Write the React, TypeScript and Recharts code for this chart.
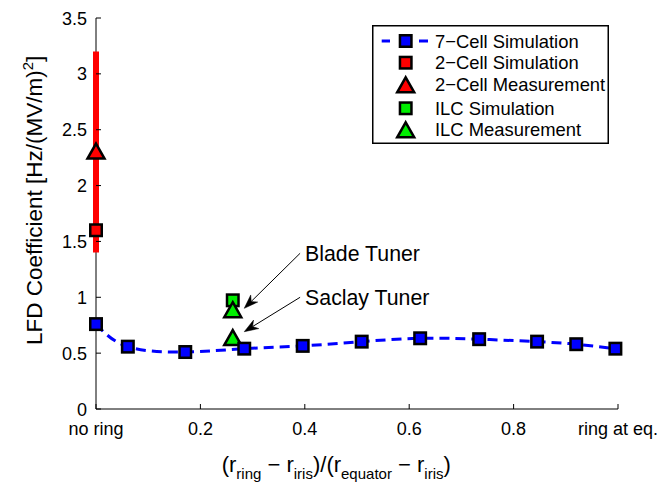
import React from 'react';
import { ComposedChart, Line, Scatter, XAxis, YAxis, ReferenceLine, Legend } from 'recharts';

const FONT = '"Liberation Sans", Arial, Helvetica, sans-serif';
const BLUE = '#0000ff';
const RED = '#ff0000';
const GREEN = '#00ee00';

// 7-Cell simulation
const ringPosition = [0, 0.061, 0.171, 0.284, 0.396, 0.509, 0.621, 0.734, 0.845, 0.92, 0.995];
const lfd7Cell = [0.76, 0.558, 0.51, 0.54, 0.565, 0.603, 0.633, 0.625, 0.603, 0.58, 0.54];

// 2-Cell
const twoCellX = [0];
const twoCellSim = [1.6];
const twoCellMeas = [2.3];
const twoCellRange = [1.4, 3.2];

// ILC
const ilcSimX = [0.262];
const ilcSim = [0.973];
const ilcMeasX = [0.262, 0.262];
const ilcMeas = [0.88, 0.63];

const xTicks = [0, 0.2, 0.4, 0.6, 0.8, 1];
const xTickLabels = ['no ring', '0.2', '0.4', '0.6', '0.8', 'ring at eq.'];
const yTicks = [0, 0.5, 1, 1.5, 2, 2.5, 3, 3.5];
const yTickLabels = ['0', '0.5', '1', '1.5', '2', '2.5', '3', '3.5'];

const legendLabels = ['7\u2212Cell Simulation', '2\u2212Cell Simulation', '2\u2212Cell Measurement', 'ILC Simulation', 'ILC Measurement'];

const annotationLabels = ['Blade Tuner', 'Saclay Tuner'];
const annotationFromX = [0.391, 0.391];
const annotationFromY = [1.394, 1.0];
const annotationToX = [0.284, 0.284];
const annotationToY = [0.901, 0.692];

const cell7Data = ringPosition.map((x, i) => ({ x, y: lfd7Cell[i] }));
const twoCellBarData = twoCellRange.map((y) => ({ x: twoCellX[0], y }));
const twoCellSimData = twoCellSim.map((y, i) => ({ x: twoCellX[i], y }));
const twoCellMeasData = twoCellMeas.map((y, i) => ({ x: twoCellX[i], y }));
const ilcSimData = ilcSim.map((y, i) => ({ x: ilcSimX[i], y }));
const ilcMeasData = ilcMeas.map((y, i) => ({ x: ilcMeasX[i], y }));

const squarePath = (cx: number, cy: number, fill: string, key?: any) => (
  <rect key={key} x={cx - 5.75} y={cy - 5.75} width={11.5} height={11.5} fill={fill} stroke="#000" strokeWidth={2.5} />
);
const trianglePath = (cx: number, cy: number, fill: string, key?: any) => (
  <path
    key={key}
    d={`M${cx},${cy - 8.5} L${cx + 8.5},${cy + 6.5} L${cx - 8.5},${cy + 6.5} Z`}
    fill={fill}
    stroke="#000"
    strokeWidth={2.5}
    strokeLinejoin="miter"
  />
);

const SquareShape = (fill: string) => (props: any) => {
  const { cx, cy } = props;
  if (cx == null || cy == null) return <g />;
  return squarePath(cx, cy, fill, props.key ?? props.index);
};
const TriangleShape = (fill: string) => (props: any) => {
  const { cx, cy } = props;
  if (cx == null || cy == null) return <g />;
  return trianglePath(cx, cy, fill, props.key ?? props.index);
};
const EmptyShape = () => <g />;

const XTick = (props: any) => {
  const { x, y, payload } = props;
  const idx = xTicks.indexOf(payload.value);
  return (
    <g>
      <line x1={x} y1={y} x2={x} y2={y - 5} stroke="#000" strokeWidth={1} />
      <text x={x} y={y + 26} textAnchor="middle" fontSize={18} fontFamily={FONT} fill="#000">
        {idx >= 0 ? xTickLabels[idx] : String(payload.value)}
      </text>
    </g>
  );
};

const YTick = (props: any) => {
  const { x, y, payload } = props;
  const idx = yTicks.indexOf(payload.value);
  return (
    <g>
      <line x1={x} y1={y} x2={x + 5} y2={y} stroke="#000" strokeWidth={1} />
      <text x={x - 9} y={y + 6.5} textAnchor="end" fontSize={18} fontFamily={FONT} fill="#000">
        {idx >= 0 ? yTickLabels[idx] : String(payload.value)}
      </text>
    </g>
  );
};

const ArrowShape = (label: string) => (props: any) => {
  const { x1, y1, x2, y2 } = props;
  if ([x1, y1, x2, y2].some((v) => v == null || isNaN(v))) return <g />;
  const dx = x2 - x1;
  const dy = y2 - y1;
  const len = Math.hypot(dx, dy) || 1;
  const ux = dx / len;
  const uy = dy / len;
  const px = -uy;
  const py = ux;
  const L = 14;
  const W = 5;
  const bx = x2 - ux * L;
  const by = y2 - uy * L;
  const nx = x2 - ux * L * 0.7;
  const ny = y2 - uy * L * 0.7;
  return (
    <g>
      <line x1={x1} y1={y1} x2={nx} y2={ny} stroke="#000" strokeWidth={1} />
      <path
        d={`M${x2},${y2} L${bx + px * W},${by + py * W} L${nx},${ny} L${bx - px * W},${by - py * W} Z`}
        fill="#000"
        stroke="#000"
        strokeWidth={0.5}
      />
      <text x={x1 + 5} y={y1 + 8} fontSize={21.3} fontFamily={FONT} fill="#000">
        {label}
      </text>
    </g>
  );
};

const XLabel = (props: any) => {
  const vb = props.viewBox || { x: 96, y: 409 };
  const x = 221.7;
  const y = vb.y + 63;
  const sub = 15;
  const d = 7;
  return (
    <text x={x} y={y} fontSize={22} fontFamily={FONT} fill="#000">
      <tspan>(r</tspan>
      <tspan fontSize={sub} dy={d}>ring</tspan>
      <tspan dy={-d}>{' \u2212 r'}</tspan>
      <tspan fontSize={sub} dy={d}>iris</tspan>
      <tspan dy={-d}>)/(r</tspan>
      <tspan fontSize={sub} dy={d}>equator</tspan>
      <tspan dy={-d}>{' \u2212 r'}</tspan>
      <tspan fontSize={sub} dy={d}>iris</tspan>
      <tspan dy={-d}>)</tspan>
    </text>
  );
};

const YLabel = () => {
  const x = 42;
  const y = 345;
  return (
    <text x={x} y={y} transform={`rotate(-90, ${x}, ${y})`} fontSize={22.5} fontFamily={FONT} fill="#000">
      <tspan>LFD Coefficient [Hz/(MV/m)</tspan>
      <tspan fontSize={15} dy={-9}>2</tspan>
      <tspan dy={9}>]</tspan>
    </text>
  );
};

const LegendBox = () => {
  const rowY = [16, 37.7, 59.3, 83.3, 104.3];
  const symX = 33.7;
  const textX = 63;
  const kinds = ['line', 'square', 'triangle', 'square', 'triangle'];
  const fills = [BLUE, RED, RED, GREEN, GREEN];
  return (
    <svg width={237} height={119} style={{ display: 'block' }}>
      <rect x={0.75} y={0.75} width={235.5} height={117.5} fill="#fff" stroke="#000" strokeWidth={1.5} />
      {legendLabels.map((label, i) => {
        const cy = rowY[i];
        return (
          <g key={label}>
            {kinds[i] === 'line' && (
              <g>
                <line x1={9.7} y1={cy} x2={18} y2={cy} stroke={BLUE} strokeWidth={3} />
                <line x1={47} y1={cy} x2={56} y2={cy} stroke={BLUE} strokeWidth={3} />
              </g>
            )}
            {kinds[i] === 'triangle' ? trianglePath(symX, cy + 1.5, fills[i]) : squarePath(symX, cy, fills[i])}
            <text x={textX} y={cy + 6.5} fontSize={18.4} fontFamily={FONT} fill="#000">
              {label}
            </text>
          </g>
        );
      })}
    </svg>
  );
};

export default function App() {
  return (
    <div style={{ position: 'absolute', left: 0, top: 0, width: 658, height: 487, fontFamily: FONT }}>
      <ComposedChart width={658} height={487} margin={{ top: 18, right: 40, bottom: 0, left: 0 }}>
        <XAxis
          type="number"
          dataKey="x"
          domain={[0, 1]}
          ticks={xTicks}
          interval={0}
          height={78}
          tickSize={0}
          tickMargin={0}
          tick={<XTick />}
          tickLine={false}
          axisLine={{ stroke: '#000', strokeWidth: 1 }}
          label={<XLabel />}
        />
        <YAxis
          type="number"
          dataKey="y"
          domain={[0, 3.5]}
          ticks={yTicks}
          interval={0}
          width={96}
          tickSize={0}
          tickMargin={0}
          tick={<YTick />}
          tickLine={false}
          axisLine={{ stroke: '#000', strokeWidth: 1 }}
          label={<YLabel />}
        />
        <Legend
          layout="vertical"
          align="center"
          verticalAlign="middle"
          content={() => <LegendBox />}
          wrapperStyle={{ position: 'absolute', left: 372, top: 25, width: 237, height: 119 }}
        />
        <Line
          data={cell7Data}
          dataKey="y"
          type="natural"
          stroke={BLUE}
          strokeWidth={3}
          strokeDasharray="10 6"
          dot={SquareShape(BLUE)}
          activeDot={false}
          isAnimationActive={false}
          name={legendLabels[0]}
        />
        <Scatter
          data={twoCellBarData}
          dataKey="y"
          fill={RED}
          line={{ stroke: RED, strokeWidth: 6 }}
          shape={EmptyShape}
          isAnimationActive={false}
          legendType="none"
        />
        <Scatter data={twoCellSimData} dataKey="y" shape={SquareShape(RED)} isAnimationActive={false} name={legendLabels[1]} />
        <Scatter data={twoCellMeasData} dataKey="y" shape={TriangleShape(RED)} isAnimationActive={false} name={legendLabels[2]} />
        <Scatter data={ilcSimData} dataKey="y" shape={SquareShape(GREEN)} isAnimationActive={false} name={legendLabels[3]} />
        <Scatter data={ilcMeasData} dataKey="y" shape={TriangleShape(GREEN)} isAnimationActive={false} name={legendLabels[4]} />
        {annotationLabels.map((label, i) => (
          <ReferenceLine
            key={label}
            segment={[
              { x: annotationFromX[i], y: annotationFromY[i] },
              { x: annotationToX[i], y: annotationToY[i] },
            ]}
            ifOverflow="visible"
            shape={ArrowShape(label)}
          />
        ))}
      </ComposedChart>
    </div>
  );
}
